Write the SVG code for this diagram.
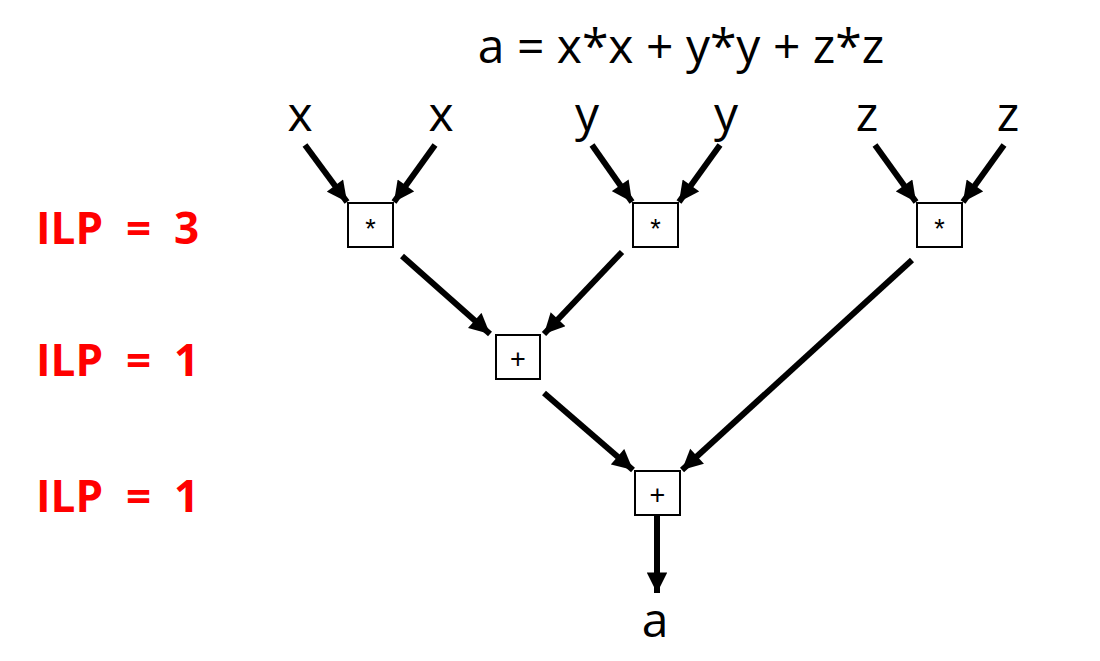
<svg xmlns="http://www.w3.org/2000/svg" width="1100" height="661" viewBox="0 0 1100 661">
<style>
.t{font-family:"Open Sans","Noto Sans",sans-serif;font-size:48px;fill:#000;text-anchor:middle}
.ilp{font-family:"Open Sans","Noto Sans",sans-serif;font-size:44px;font-weight:bold;fill:#ff0000;white-space:pre}
.box{fill:#fff;stroke:#000;stroke-width:2}
.op{font-family:"Liberation Sans",Arial,sans-serif;font-size:27px;fill:#000;text-anchor:middle}
.c{stroke:#000;stroke-width:6;fill:none;marker-end:url(#ah)}
</style>
<defs>
<marker id="ah" viewBox="0 0 10 10" refX="10" refY="5" markerWidth="3.6" markerHeight="3.4" orient="auto" markerUnits="strokeWidth">
<path d="M0,0 L10,5 L0,10 z" fill="#000"/>
</marker>
</defs>
<rect width="1100" height="661" fill="#fff"/>
<text class="t" x="681" y="63">a = x*x + y*y + z*z</text>
<g id="inputs">
<text class="t" x="300" y="131">x</text>
<text class="t" x="441" y="131">x</text>
<text class="t" x="587" y="131">y</text>
<text class="t" x="726" y="131">y</text>
<text class="t" x="867" y="131">z</text>
<text class="t" x="1008" y="131">z</text>
</g>
<g id="ilp">
<text class="ilp" x="36" y="244">ILP  =  3</text>
<text class="ilp" x="36" y="376">ILP  =  1</text>
<text class="ilp" x="36" y="512">ILP  =  1</text>
</g>
<g id="connectors">
<line class="c" x1="305" y1="145" x2="347" y2="202"/>
<line class="c" x1="435" y1="145" x2="394" y2="202"/>
<line class="c" x1="592" y1="145" x2="632" y2="202"/>
<line class="c" x1="720" y1="145" x2="679" y2="202"/>
<line class="c" x1="875" y1="145" x2="916" y2="202"/>
<line class="c" x1="1004" y1="145" x2="963" y2="202"/>
<line class="c" x1="402" y1="256" x2="490" y2="334"/>
<line class="c" x1="622" y1="252" x2="544" y2="334"/>
<line class="c" x1="544" y1="393" x2="633" y2="470"/>
<line class="c" x1="912" y1="260" x2="682" y2="470"/>
<line class="c" x1="657" y1="515" x2="657" y2="593"/>
</g>
<g id="mul1"><rect class="box" x="348" y="203" width="45" height="44"/><text class="op" x="370.5" y="238">*</text></g>
<g id="mul2"><rect class="box" x="633" y="203" width="45" height="44"/><text class="op" x="655.5" y="238">*</text></g>
<g id="mul3"><rect class="box" x="917" y="203" width="45" height="44"/><text class="op" x="939.5" y="238">*</text></g>
<g id="add1"><rect class="box" x="496" y="335" width="44" height="44"/><text class="op" x="518" y="368">+</text></g>
<g id="add2"><rect class="box" x="635" y="471" width="45" height="44"/><text class="op" x="657.5" y="504">+</text></g>
<text class="t" x="655" y="637">a</text>
</svg>
